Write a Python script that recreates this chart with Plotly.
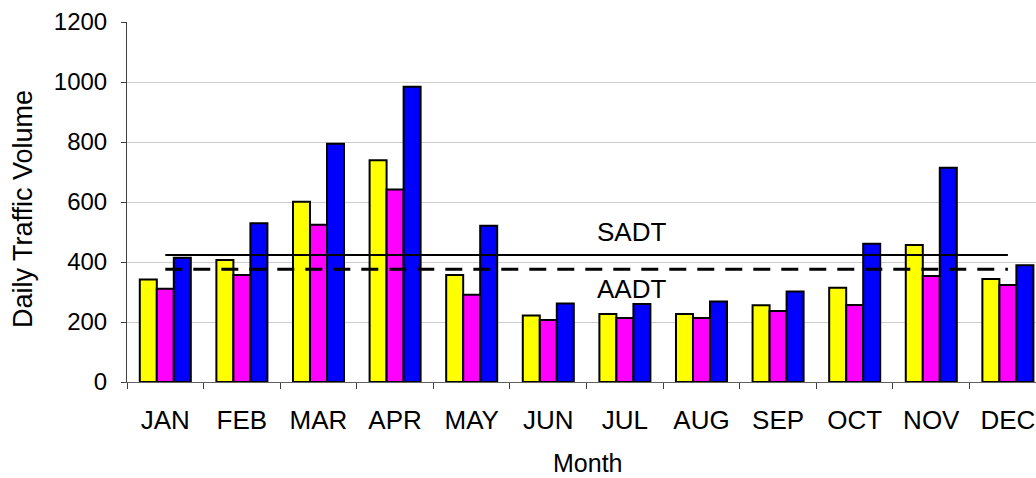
import plotly.graph_objects as go

months = ["JAN", "FEB", "MAR", "APR", "MAY", "JUN", "JUL", "AUG", "SEP", "OCT", "NOV", "DEC"]
series_yellow = [342, 407, 601, 739, 357, 222, 227, 227, 256, 314, 457, 343]
series_magenta = [311, 357, 524, 642, 291, 207, 213, 213, 237, 257, 353, 323]
series_blue = [414, 529, 794, 984, 521, 262, 260, 268, 302, 461, 714, 389]
sadt = 423
aadt = 376
y_ticks = [0, 200, 400, 600, 800, 1000, 1200]

FONT = "Arial, Liberation Sans, sans-serif"

W, H = 1036, 478
L, T, B = 127, 22, 96
PW, PH = W - L, H - T - B

fig = go.Figure()
for name, vals, col in [("Series 1", series_yellow, "#FFFF00"),
                        ("Series 2", series_magenta, "#FF00FF"),
                        ("Series 3", series_blue, "#0000FF")]:
    fig.add_trace(go.Bar(x=months, y=vals, name=name,
                         marker=dict(color=col, line=dict(color="black", width=2))))

fig.add_trace(go.Scatter(x=[months[0], months[-1]], y=[sadt, sadt], mode="lines",
                         name="SADT", line=dict(color="black", width=2)))
fig.add_trace(go.Scatter(x=[months[0], months[-1]], y=[aadt, aadt], mode="lines",
                         name="AADT", line=dict(color="black", width=3, dash="17px,11px")))

fig.update_layout(
    width=W, height=H,
    margin=dict(l=L, r=0, t=T, b=B),
    paper_bgcolor="white", plot_bgcolor="white",
    showlegend=False,
    barmode="group", bargap=0.334, bargroupgap=0,
    font=dict(family=FONT, color="black"),
)
fig.update_xaxes(
    type="category", range=[-0.5, 11.367],
    tickson="boundaries", ticks="outside", ticklen=6, tickcolor="#404040",
    showline=True, linecolor="#606060", linewidth=1,
    showgrid=False, tickfont=dict(size=26, family=FONT),
    ticklabelstandoff=15,
)
fig.update_yaxes(
    range=[0, 1200], tickvals=y_ticks,
    ticks="outside", ticklen=5, tickcolor="#404040",
    showline=True, linecolor="#404040", linewidth=1,
    showgrid=True, gridcolor="#cccccc", gridwidth=1,
    zeroline=False, tickfont=dict(size=24, family=FONT),
    ticklabelstandoff=9,
)

fig.add_annotation(text="Daily Traffic Volume", xref="paper", yref="paper",
                   x=(23 - L) / PW, y=(382 - 209) / PH, xanchor="center", yanchor="middle",
                   textangle=-90, showarrow=False, font=dict(size=27, family=FONT))
fig.add_annotation(text="Month", xref="paper", yref="paper",
                   x=(587 - L) / PW, y=(382 - 463) / PH, xanchor="center", yanchor="middle",
                   showarrow=False, font=dict(size=25, family=FONT))
fig.add_annotation(text="SADT", x=6.09, y=501, xref="x", yref="y",
                   showarrow=False, font=dict(size=26, family=FONT))
fig.add_annotation(text="AADT", x=6.09, y=309, xref="x", yref="y",
                   showarrow=False, font=dict(size=26, family=FONT))

fig.write_html("out.html", config={"displayModeBar": False},
               post_script="document.body.style.margin='0';document.body.style.overflow='hidden';")
